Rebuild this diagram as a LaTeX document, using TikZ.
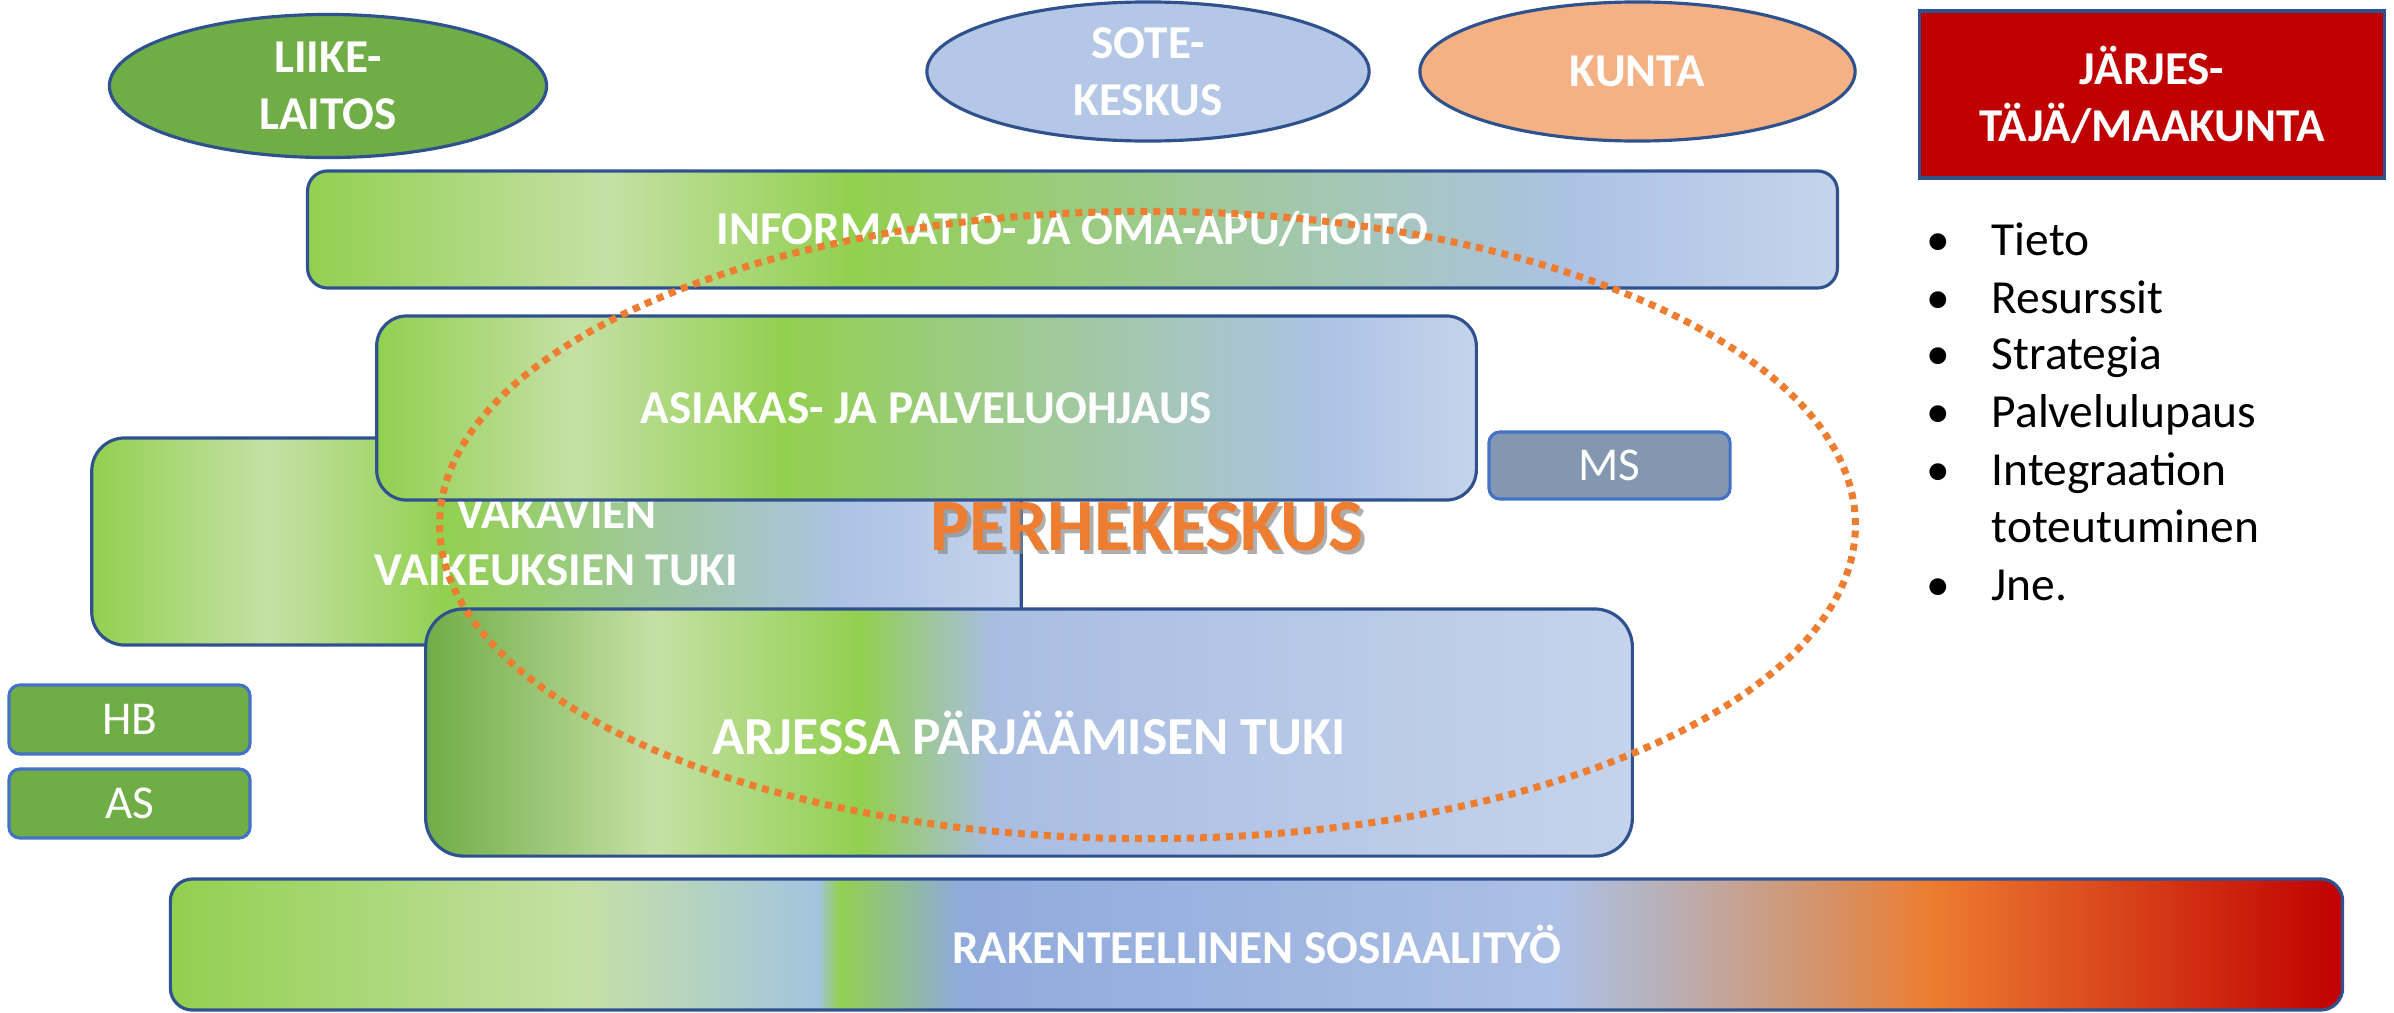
\documentclass[tikz,border=0pt]{standalone}
\usepackage{fontspec}
\setmainfont{Carlito}
\usetikzlibrary{shapes.geometric}
\definecolor{edgeblue}{HTML}{2F528F}
\definecolor{tagblue}{HTML}{4472C4}
\definecolor{liikegreen}{HTML}{70AD47}
\definecolor{sotebl}{HTML}{B4C7E7}
\definecolor{kuntaor}{HTML}{F4B183}
\definecolor{jred}{HTML}{C00000}
\definecolor{msgray}{HTML}{8497B0}
\definecolor{perheor}{HTML}{ED7D31}
% shadings: path bbox maps to 25bp..75bp
\pgfdeclarehorizontalshading{infosh}{100bp}{rgb(0bp)=(0.573,0.816,0.314); rgb(25bp)=(0.573,0.816,0.314); rgb(34.75bp)=(0.773,0.878,0.647); rgb(42.75bp)=(0.573,0.816,0.314); rgb(66.5bp)=(0.678,0.761,0.898); rgb(75bp)=(0.773,0.831,0.925); rgb(100bp)=(0.773,0.831,0.925)}
\pgfdeclarehorizontalshading{asiash}{100bp}{rgb(0bp)=(0.573,0.816,0.314); rgb(25bp)=(0.573,0.816,0.314); rgb(34bp)=(0.773,0.878,0.647); rgb(43.5bp)=(0.573,0.816,0.314); rgb(68bp)=(0.678,0.761,0.898); rgb(75bp)=(0.773,0.831,0.925); rgb(100bp)=(0.773,0.831,0.925)}
\pgfdeclarehorizontalshading{vakash}{100bp}{rgb(0bp)=(0.573,0.816,0.314); rgb(25bp)=(0.573,0.816,0.314); rgb(34.5bp)=(0.773,0.878,0.647); rgb(44bp)=(0.573,0.816,0.314); rgb(65.5bp)=(0.678,0.761,0.898); rgb(75bp)=(0.773,0.831,0.925); rgb(100bp)=(0.773,0.831,0.925)}
\pgfdeclarehorizontalshading{arjsh}{100bp}{rgb(0bp)=(0.439,0.678,0.278); rgb(25bp)=(0.439,0.678,0.278); rgb(34.5bp)=(0.773,0.878,0.647); rgb(43bp)=(0.573,0.816,0.314); rgb(48.5bp)=(0.663,0.741,0.886); rgb(75bp)=(0.773,0.831,0.925); rgb(100bp)=(0.773,0.831,0.925)}
\pgfdeclarehorizontalshading{raksh}{100bp}{rgb(0bp)=(0.573,0.816,0.314); rgb(25bp)=(0.573,0.816,0.314); rgb(34.5bp)=(0.773,0.878,0.647); rgb(39.9bp)=(0.639,0.769,0.878); rgb(40.4bp)=(0.573,0.816,0.314); rgb(43.2bp)=(0.561,0.667,0.863); rgb(57bp)=(0.678,0.753,0.898); rgb(59.5bp)=(0.725,0.686,0.706); rgb(63bp)=(0.831,0.576,0.416); rgb(65.5bp)=(0.929,0.490,0.192); rgb(75bp)=(0.753,0,0); rgb(100bp)=(0.753,0,0)}
\begin{document}
\begin{tikzpicture}[x=0.01cm,y=-0.01cm,
  lbl/.style={text=white,font=\fontsize{13.4}{16.2}\selectfont\bfseries,align=center},
  band/.style={draw=edgeblue,line width=0.9pt,inner sep=0pt,lbl},
  oval/.style={ellipse,draw=edgeblue,line width=0.9pt,inner sep=0pt,lbl},
  tagbox/.style={draw=tagblue,line width=0.9pt,rounded corners=0.11cm,inner sep=0pt,fill=liikegreen,text=white,font=\fontsize{13.4}{16.2}\selectfont},
  bul/.style={anchor=base,font=\fontsize{13.5}{16}\selectfont},
  bultext/.style={anchor=base west,inner sep=0pt,font=\fontsize{13.5}{16}\selectfont},
  ringdots/.style={draw=perheor,line width=2pt,dash pattern=on 2pt off 1.7pt}]
\useasboundingbox (0,0) rectangle (2394,1012);
% layered bands
\node[band,shading=vakash,rounded corners=0.33cm,minimum width=9.29cm,minimum height=2.07cm] (vak) at (556.5,541.5) {VAKAVIEN\\VAIKEUKSIEN TUKI};
\node[band,shading=infosh,rounded corners=0.2cm,minimum width=15.29cm,minimum height=1.17cm] (info) at (1072.5,229.5) {INFORMAATIO- JA OMA-APU/HOITO};
\node[band,shading=asiash,rounded corners=0.3cm,minimum width=10.99cm,minimum height=1.84cm] (asia) at (926.5,408) {ASIAKAS- JA PALVELUOHJAUS};
\node[band,shading=arjsh,rounded corners=0.38cm,minimum width=12.06cm,minimum height=2.47cm,font=\fontsize{15.2}{18}\selectfont\bfseries] (arj) at (1029,732.5) {ARJESSA PÄRJÄÄMISEN TUKI};
\node[band,shading=raksh,rounded corners=0.22cm,minimum width=21.71cm,minimum height=1.31cm] (rak) at (1256.5,944.5) {RAKENTEELLINEN SOSIAALITYÖ};
% small tags
\node[tagbox,fill=msgray,minimum width=2.41cm,minimum height=0.67cm] (ms) at (1609.5,465.5) {MS};
\node[tagbox,minimum width=2.41cm,minimum height=0.69cm] (hb) at (129.5,719.5) {HB};
\node[tagbox,minimum width=2.41cm,minimum height=0.69cm] (as) at (129.5,803.5) {AS};
% ellipses
\node[oval,fill=liikegreen,minimum width=4.37cm,minimum height=1.43cm] (liike) at (328,86) {LIIKE-\\LAITOS};
\node[oval,fill=sotebl,minimum width=4.42cm,minimum height=1.39cm] (sote) at (1148,71.5) {SOTE-\\KESKUS};
\node[oval,fill=kuntaor,minimum width=4.35cm,minimum height=1.39cm] (kunta) at (1637.5,71.5) {KUNTA};
% organiser box
\node[band,fill=jred,minimum width=4.64cm,minimum height=1.67cm] (jarj) at (2152,94.5) {JÄRJES-\\TÄJÄ/MAAKUNTA};
% bullet list
\foreach \yy/\nm/\tx in {255/t1/Tieto,313/t2/Resurssit,369/t3/Strategia,427/t4/Palvelulupaus,485/t5/Integraation,600/t7/Jne.}{
  \node[bul] (b\nm) at (1938,\yy) {•};
  \node[bultext] (\nm) at (1991,\yy) {\tx};
}
\node[bultext] (t6) at (1991,542) {toteutuminen};
% perhekeskus
\node[text=black!45,opacity=0.7,font=\fontsize{21}{24}\selectfont\bfseries] (perheshadow) at (1150.5,531) {PERHEKESKUS};
\node[text=perheor,font=\fontsize{21}{24}\selectfont\bfseries] (perhe) at (1147,527) {PERHEKESKUS};
\node[ellipse,ringdots,inner sep=0pt,minimum width=14.15cm,minimum height=6.27cm] (ring) at (1147.5,525) {};
\end{tikzpicture}
\end{document}
